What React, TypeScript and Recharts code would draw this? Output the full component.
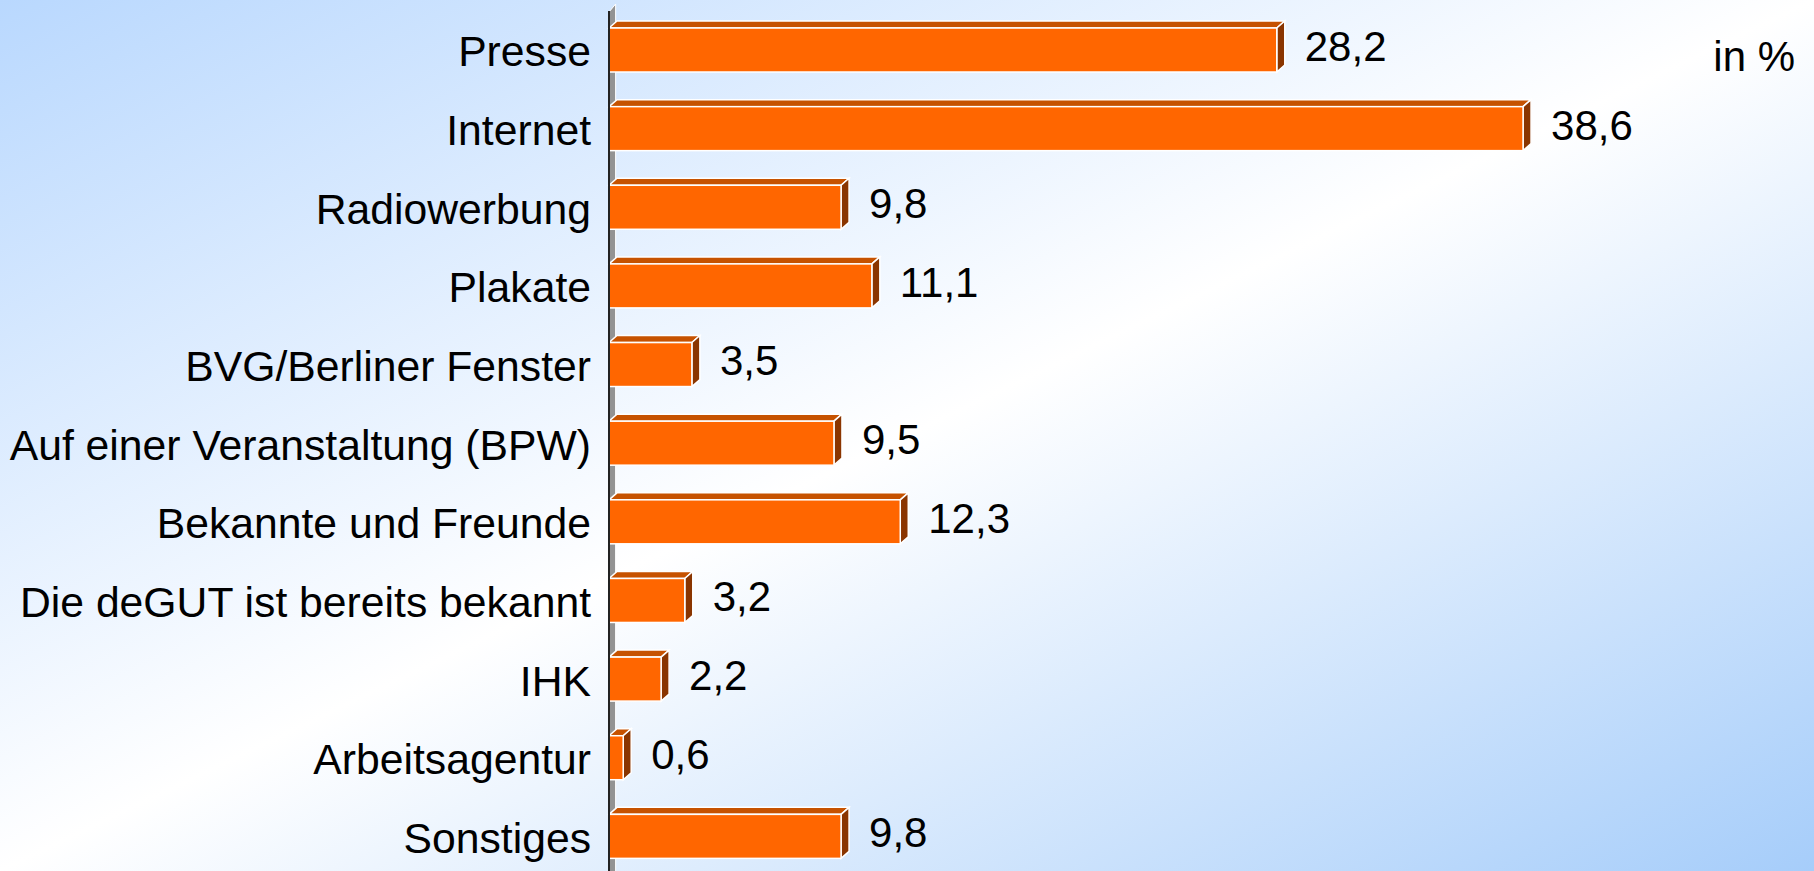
import { BarChart, Bar, XAxis, YAxis, LabelList, ReferenceArea } from 'recharts'

const categories = [
  'Presse',
  'Internet',
  'Radiowerbung',
  'Plakate',
  'BVG/Berliner Fenster',
  'Auf einer Veranstaltung (BPW)',
  'Bekannte und Freunde',
  'Die deGUT ist bereits bekannt',
  'IHK',
  'Arbeitsagentur',
  'Sonstiges'
]

const shares = [28.2, 38.6, 9.8, 11.1, 3.5, 9.5, 12.3, 3.2, 2.2, 0.6, 9.8]

const unitLabel = 'in %'

const chartData = categories.map((name, i) => ({ name, value: shares[i] }))

const FONT = '"Liberation Sans", Arial, sans-serif'
const DX = 8
const DY = 7

const Bar3D = (props: any) => {
  const { x, y, width, height } = props
  if (width == null || height == null) return null
  const top = `${x},${y} ${x + DX},${y - DY} ${x + width + DX},${y - DY} ${x + width},${y}`
  const side = `${x + width},${y} ${x + width + DX},${y - DY} ${x + width + DX},${y + height - DY} ${x + width},${y + height}`
  return (
    <g>
      <polygon points={top} fill="#c65200" stroke="#ffffff" strokeWidth={1.5} />
      <polygon points={side} fill="#8a3500" stroke="#ffffff" strokeWidth={1.5} />
      <rect x={x} y={y} width={width} height={height} fill="#ff6600" stroke="#ffffff" strokeWidth={1.5} />
    </g>
  )
}

const Wall = (props: any) => {
  const { x, y, width, height } = props
  const pts = `${x},${y + 1} ${x + width},${y - 7} ${x + width},${y + height} ${x},${y + height}`
  return <polygon points={pts} fill="#939393" stroke="#ffffff" strokeWidth={1} />
}

const formatValue = (v: any) => String(v).replace('.', ',')

export default function App() {
  return (
    <div
      style={{
        position: 'fixed',
        left: 0,
        top: 0,
        width: 1814,
        height: 871,
        overflow: 'hidden',
        fontFamily: FONT,
        background: 'linear-gradient(to bottom right, #b9d8fe 0%, #ffffff 50%, #a6cdfa 100%)'
      }}
    >
      <BarChart
        width={1814}
        height={871}
        data={chartData}
        layout="vertical"
        margin={{ top: 11, right: 21, bottom: -5, left: 0 }}
      >
        <XAxis type="number" domain={[0, 50]} hide />
        <YAxis
          type="category"
          dataKey="name"
          width={609}
          tickSize={0}
          tickMargin={18}
          tickLine={false}
          axisLine={{ stroke: '#222222', strokeWidth: 2 }}
          tick={{ fill: '#000000', fontSize: 42.7, fontFamily: FONT, dy: 1 }}
        />
        <ReferenceArea x1={0} x2={0.28} ifOverflow="visible" shape={<Wall />} />
        <Bar
          dataKey="value"
          barSize={44}
          shape={<Bar3D />}
          isAnimationActive={false}
        >
          <LabelList
            dataKey="value"
            position="right"
            offset={28}
            formatter={formatValue}
            style={{ fill: '#000000', fontSize: 42, fontFamily: FONT }}
            dy={-4}
          />
        </Bar>
      </BarChart>
      <div
        style={{
          position: 'absolute',
          right: 1814 - 1795,
          top: 36,
          fontSize: 42,
          lineHeight: '42px',
          color: '#000000'
        }}
      >
        {unitLabel}
      </div>
    </div>
  )
}
